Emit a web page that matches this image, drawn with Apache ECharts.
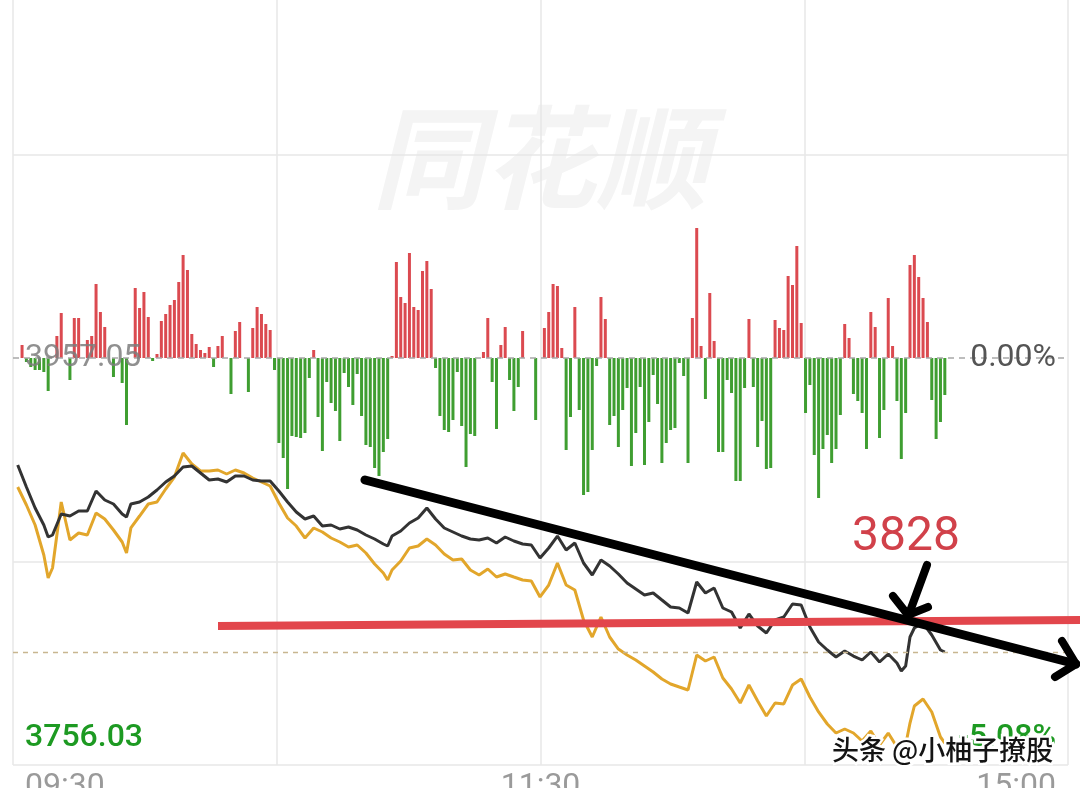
<!DOCTYPE html>
<html>
<head>
<meta charset="utf-8">
<script src="https://cdn.jsdelivr.net/npm/echarts@6.0.0/dist/echarts.min.js"></script>
<style>
html,body{margin:0;padding:0;background:#ffffff;}
#c{width:1080px;height:788px;}
</style>
</head>
<body>
<div id="c"></div>
<script>
// ---- reference values ----
const preClose = 3957.05;           // 昨收
const lowPrice = 3756.03;           // axis bottom (-5.08%)
const priceLabels = ['3957.05', '3756.03'];
const pctLabels = ['0.00%', '-5.08%'];
const timeLabels = {0: '09:30', 120: '11:30', 240: '15:00'};

// minute index from 09:30 (0 .. 240)
const lineMinutes = [
  0,2,4,6,7,8,10,12,14,16,18,20,22,24,25,26,28,30,32,34,36,38,
  40,42,44,46,48,50,52,54,56,58,
  60,62,64,66,68,70,72,74,76,78,
  80,82,84,85,86,88,90,92,94,96,98,
  100,102,104,106,108,110,112,114,116,118,
  120,122,124,126,128,130,132,134,136,138,
  140,142,144,146,148,150,152,154,156,158,
  160,162,164,166,168,170,172,174,176,178,
  180,182,184,186,188,190,192,194,196,198,
  200,202,203,204,205,206,208,210,212,213
];
// index price (black)
const indexPrice = [
  3904.20,3893.34,3882.96,3874.57,3868.64,3869.63,3880.00,3879.01,3881.48,3881.48,3891.36,3886.91,3884.94,3880.00,3878.52,3884.94,3885.93,3888.40,3891.85,3895.81,3898.77,3903.21,
  3903.71,3900.25,3896.79,3897.29,3895.81,3898.77,3898.77,3896.79,3896.30,3896.30,
  3891.36,3885.93,3880.99,3877.53,3879.01,3874.07,3874.57,3872.59,3873.58,3872.10,
  3869.63,3867.65,3865.18,3864.19,3869.13,3871.60,3875.55,3878.02,3882.96,3877.53,3873.09,
  3871.11,3869.13,3867.65,3867.16,3868.15,3865.68,3868.64,3866.66,3865.18,3864.69,
  3858.27,3863.21,3869.13,3862.22,3865.68,3855.80,3849.87,3857.28,3854.32,3850.37,
  3845.92,3842.96,3839.99,3840.98,3837.52,3834.07,3833.57,3831.10,3846.41,3840.98,
  3843.45,3833.57,3831.60,3823.69,3830.61,3824.68,3821.22,3827.65,3829.13,3835.55,
  3835.05,3824.19,3816.78,3812.83,3809.37,3812.33,3809.86,3807.89,3811.84,3806.90,
  3810.85,3806.41,3802.46,3804.93,3819.25,3823.69,3826.16,3820.24,3812.83,3811.84
];
// leading indicator (yellow)
const leadPrice = [
  3893.34,3884.45,3874.57,3859.75,3848.39,3853.33,3885.93,3867.16,3870.62,3869.63,3880.49,3877.53,3872.10,3866.17,3860.74,3873.09,3879.01,3884.94,3885.93,3892.35,3898.27,3910.13,
  3904.70,3901.24,3901.24,3901.73,3899.76,3901.73,3900.25,3897.78,3895.81,3893.83,
  3885.43,3878.02,3874.07,3868.15,3873.09,3871.11,3868.15,3866.17,3863.70,3864.69,
  3860.74,3855.30,3850.86,3847.40,3852.34,3856.79,3863.21,3864.19,3867.65,3864.69,3860.24,
  3857.28,3857.77,3852.34,3849.87,3852.84,3848.88,3850.37,3848.88,3847.40,3846.91,
  3839.01,3844.93,3855.80,3844.93,3842.46,3827.65,3819.25,3829.13,3819.25,3813.32,
  3810.36,3807.89,3804.93,3801.96,3798.50,3796.04,3794.55,3793.07,3810.36,3807.40,
  3809.37,3799.00,3793.57,3786.65,3795.54,3787.64,3780.23,3786.65,3786.16,3795.54,
  3798.50,3789.61,3782.21,3776.28,3771.83,3773.81,3771.83,3767.88,3772.82,3765.91,
  3771.83,3764.92,3759.98,3765.91,3776.77,3785.17,3788.63,3782.21,3769.86,3766.89
];
// red / green strength bars, one per minute (index 0..213)
const flowBars = [
  0,13,-4,-9,-12,-12,-14,-33,0,22,
  45,0,-22,40,40,0,18,22,74,46,
  31,0,-19,0,-25,-67,0,70,50,66,
  41,-3,4,37,44,53,58,76,103,88,
  24,14,8,5,11,-9,12,22,0,-36,
  27,36,0,-34,30,51,44,34,28,-12,
  -85,-100,-131,-78,-79,-80,-75,-20,8,-59,
  -93,-24,-45,-53,-83,-15,-29,-47,-16,-58,
  -87,-89,-110,-118,-94,-81,2,96,61,55,
  105,51,48,87,97,69,-10,-58,-72,-74,
  -62,-14,-68,-109,-76,-78,0,6,40,-24,
  -71,13,31,-22,-53,-29,27,0,0,-62,
  0,30,46,74,72,10,-92,-59,51,-52,
  -137,-134,-92,-8,61,39,-67,-58,-89,-52,
  -30,-108,-75,-29,-107,-64,-17,-46,-105,-85,
  -72,-70,-5,-18,-105,40,130,12,-41,65,
  17,-94,-94,-22,-35,-123,-123,-30,39,-29,
  -89,-63,-111,-110,38,30,28,82,73,112,
  35,-55,-27,-97,-140,-91,-77,-105,-91,-57,
  34,20,-36,-43,-55,-91,46,31,-80,-52,
  60,12,-43,-101,-55,93,103,81,60,36,
  -42,-81,-64,-37
];
const annotationValue = '3828';
const watermarkText = '同花顺';
const creditText = '头条 @小柚子撩股';

// ---- chart ----
const lastPrice = indexPrice[indexPrice.length - 1];
const chart = echarts.init(document.getElementById('c'), null, {renderer: 'canvas'});
const GRID_C = '#e7e7e7';

const option = {
  animation: false,
  backgroundColor: '#ffffff',
  grid: {left: 13, right: 12, top: -49, bottom: 23, containLabel: false, outerBoundsMode: 'none'},
  xAxis: [
    {type: 'value', min: -1.08, max: 241.3, show: false, position: 'top'},
    {type: 'value', min: 0, max: 240, interval: 60, position: 'bottom',
     axisLine: {show: false}, axisTick: {show: false},
     splitLine: {show: true, lineStyle: {color: GRID_C, width: 1.5}},
     axisLabel: {show: true, margin: 6, fontSize: 32, fontFamily: 'Roboto', color: '#9a9a9a',
       padding: [0, 12, 0, 12], alignMinLabel: 'left', alignMaxLabel: 'right',
       formatter: v => (timeLabels[v] !== undefined ? timeLabels[v] : '')}}
  ],
  yAxis: [
    {type: 'value', min: lowPrice, max: 2 * preClose - lowPrice, show: false, scale: true},
    {type: 'value', min: -2, max: 2, interval: 1,
     axisLine: {show: false}, axisTick: {show: false}, axisLabel: {show: false},
     splitLine: {show: true, lineStyle: {color: [GRID_C, GRID_C, 'rgba(0,0,0,0)', GRID_C, GRID_C], width: 1.5}}},
    {type: 'value', min: -407, max: 407, show: false}
  ],
  series: [
    {
      type: 'bar', xAxisIndex: 0, yAxisIndex: 2, barWidth: 3, silent: true, z: 2,
      data: flowBars.map((v, i) => [i, v]),
      itemStyle: {color: p => (p.value[1] >= 0 ? '#db4a50' : '#3f9e31')}
    },
    {
      type: 'line', xAxisIndex: 0, yAxisIndex: 0, showSymbol: false, silent: true, z: 3,
      data: lineMinutes.map((m, i) => [m, leadPrice[i]]),
      lineStyle: {color: '#e2a62b', width: 3}
    },
    {
      type: 'line', xAxisIndex: 0, yAxisIndex: 0, showSymbol: false, silent: true, z: 4,
      data: lineMinutes.map((m, i) => [m, indexPrice[i]]),
      lineStyle: {color: '#333333', width: 3},
      markLine: {
        silent: true, symbol: ['none', 'none'], label: {show: false},
        data: [
          {yAxis: preClose, lineStyle: {color: '#a8a8a8', type: [6, 5], width: 1.6}},
          {yAxis: lastPrice, lineStyle: {color: '#c8b690', type: [5, 5], width: 1.3}}
        ]
      }
    }
  ],
  graphic: [
    {type: 'text', z: 0, style: {text: watermarkText, x: 540, y: 157, align: 'center', verticalAlign: 'middle',
      font: 'italic bold 112px "Noto Sans CJK SC"', fill: '#f4f4f4'}},
    {type: 'text', z: 20, style: {text: priceLabels[0], x: 25, y: 358, align: 'left', verticalAlign: 'middle',
      font: '32px Roboto', fill: 'rgba(125,125,125,0.85)'}},
    {type: 'text', z: 20, style: {text: pctLabels[0], x: 1056, y: 358, align: 'right', verticalAlign: 'middle',
      font: '32px Roboto', fill: '#555555'}},
    {type: 'text', z: 20, style: {text: priceLabels[1], x: 25, y: 738, align: 'left', verticalAlign: 'middle',
      font: '500 32px Roboto', fill: '#1d9a22'}},
    {type: 'text', z: 20, style: {text: pctLabels[1], x: 1056, y: 738, align: 'right', verticalAlign: 'middle',
      font: '500 32px Roboto', fill: '#1d9a22'}},
    // hand-drawn annotations
    {type: 'line', z: 100, shape: {x1: 218, y1: 626, x2: 1080, y2: 620},
      style: {stroke: '#e2464c', lineWidth: 8}},
    {type: 'line', z: 101, shape: {x1: 365, y1: 480, x2: 1076, y2: 664},
      style: {stroke: '#000000', lineWidth: 9, lineCap: 'round'}},
    {type: 'polyline', z: 101, shape: {points: [[1062, 641], [1076, 664], [1055, 677]]},
      style: {stroke: '#000000', lineWidth: 8, lineCap: 'round', lineJoin: 'round', fill: null}},
    {type: 'line', z: 101, shape: {x1: 927, y1: 565, x2: 909, y2: 614},
      style: {stroke: '#000000', lineWidth: 8, lineCap: 'round'}},
    {type: 'polyline', z: 101, shape: {points: [[893, 596], [908, 615], [928, 607]]},
      style: {stroke: '#000000', lineWidth: 8, lineCap: 'round', lineJoin: 'round', fill: null}},
    {type: 'text', z: 102, style: {text: annotationValue, x: 852, y: 538, align: 'left', verticalAlign: 'middle',
      font: '48px Roboto', fill: '#d1414a'}},
    {type: 'text', z: 110, style: {text: creditText, x: 832, y: 750, align: 'left', verticalAlign: 'middle',
      font: '500 27px "Noto Sans CJK SC"', fill: '#ffffff', stroke: '#ffffff', lineWidth: 5,
      shadowColor: 'rgba(0,0,0,0.35)', shadowBlur: 3, shadowOffsetX: 1, shadowOffsetY: 1}},
    {type: 'text', z: 111, style: {text: creditText, x: 832, y: 750, align: 'left', verticalAlign: 'middle',
      font: '500 27px "Noto Sans CJK SC"', fill: '#141414'}}
  ]
};
chart.setOption(option);
</script>
</body>
</html>
